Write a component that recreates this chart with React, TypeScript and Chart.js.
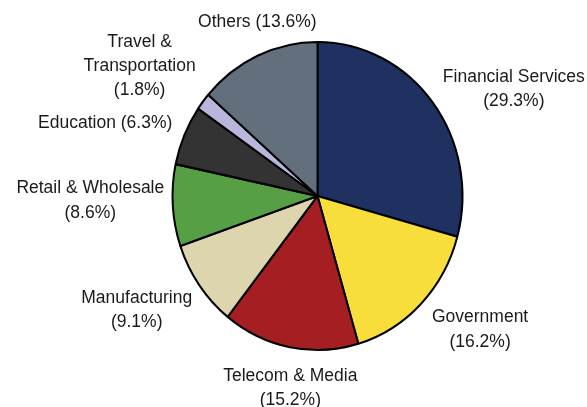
import React, { useEffect, useRef } from "react";
import { Chart, registerables } from "chart.js";

Chart.register(...registerables);

const categories = [
  "Financial Services",
  "Government",
  "Telecom & Media",
  "Manufacturing",
  "Retail & Wholesale",
  "Education",
  "Travel & Transportation",
  "Others",
];
const shares = [29.3, 16.2, 15.2, 9.1, 8.6, 6.3, 1.8, 13.6];
const sliceColors = [
  "#1E3160",
  "#F7DE3A",
  "#A51E22",
  "#DDD5AD",
  "#569F45",
  "#333333",
  "#B8B6DB",
  "#646F7E",
];
// how each label is broken into lines
const labelLines = [
  ["Financial Services", "({v}%)"],
  ["Government", "({v}%)"],
  ["Telecom & Media", "({v}%)"],
  ["Manufacturing", "({v}%)"],
  ["Retail & Wholesale", "({v}%)"],
  ["Education ({v}%)"],
  ["Travel &", "Transportation", "({v}%)"],
  ["Others ({v}%)"],
];
// fine placement tweaks for the outside labels (px)
const labelNudge = [
  [16.6, 2.3],
  [17.7, 4.2],
  [15.1, 11.9],
  [-9.1, 7.3],
  [1.3, -7.9],
  [-8.3, -6.9],
  [-11.2, -11.9],
  [28.6, -19.9],
];

const SCALE_Y = 1.062;
const FONT = '17.5px "Liberation Sans", Arial, sans-serif';
const LINE_H = 24.4;
const CAP = 12.5;
const GAP = 10;

const stretchPlugin = {
  id: "stretch",
  beforeDatasetsDraw(chart: any) {
    const ctx = chart.ctx;
    const a = chart.chartArea;
    const cy = (a.top + a.bottom) / 2;
    ctx.save();
    ctx.translate(0, cy);
    ctx.scale(1, SCALE_Y);
    ctx.translate(0, -cy);
  },
  afterDatasetsDraw(chart: any) {
    chart.ctx.restore();
  },
};

const labelPlugin = {
  id: "outLabels",
  afterDraw(chart: any) {
    const ctx = chart.ctx;
    const meta = chart.getDatasetMeta(0);
    ctx.save();
    ctx.font = FONT;
    ctx.fillStyle = "#1a1a1a";
    ctx.textAlign = "center";
    ctx.textBaseline = "alphabetic";
    meta.data.forEach((arc: any, i: number) => {
      const { x, y, startAngle, endAngle, outerRadius } = arc.getProps(
        ["x", "y", "startAngle", "endAngle", "outerRadius"],
        true
      );
      const mid = (startAngle + endAngle) / 2;
      const c = Math.cos(mid);
      const s = Math.sin(mid);
      const ex = x + outerRadius * c;
      const ey = y + outerRadius * SCALE_Y * s;
      const lines = labelLines[i].map((l) => l.replace("{v}", shares[i].toFixed(1)));
      let w = 0;
      lines.forEach((l) => (w = Math.max(w, ctx.measureText(l).width)));
      const h = CAP + (lines.length - 1) * LINE_H;
      const bx = ex + c * (w / 2 + GAP) + labelNudge[i][0];
      const by = ey + s * (h / 2 + GAP) + labelNudge[i][1];
      const top = by - h / 2;
      lines.forEach((l, k) => {
        ctx.fillText(l, bx, top + CAP + k * LINE_H);
      });
    });
    ctx.restore();
  },
};

export default function App() {
  const ref = useRef<HTMLCanvasElement | null>(null);
  useEffect(() => {
    document.body.style.margin = "0";
    const canvas = ref.current!;
    const chart = new Chart(canvas, {
      type: "pie",
      data: {
        labels: categories,
        datasets: [
          {
            data: shares,
            backgroundColor: sliceColors,
            borderColor: "#000000",
            borderWidth: 2,
            radius: 145,
          } as any,
        ],
      },
      options: {
        responsive: false,
        animation: false,
        devicePixelRatio: 1,
        layout: { padding: { left: 172.5, right: 124.5, top: 51, bottom: 66 } },
        plugins: {
          legend: { display: false },
          tooltip: { enabled: false },
        },
      },
      plugins: [stretchPlugin, labelPlugin],
    });
    return () => chart.destroy();
  }, []);
  return (
    <div style={{ width: 587, height: 407, background: "#ffffff" }}>
      <canvas ref={ref} width={587} height={407} style={{ display: "block" }} />
    </div>
  );
}
